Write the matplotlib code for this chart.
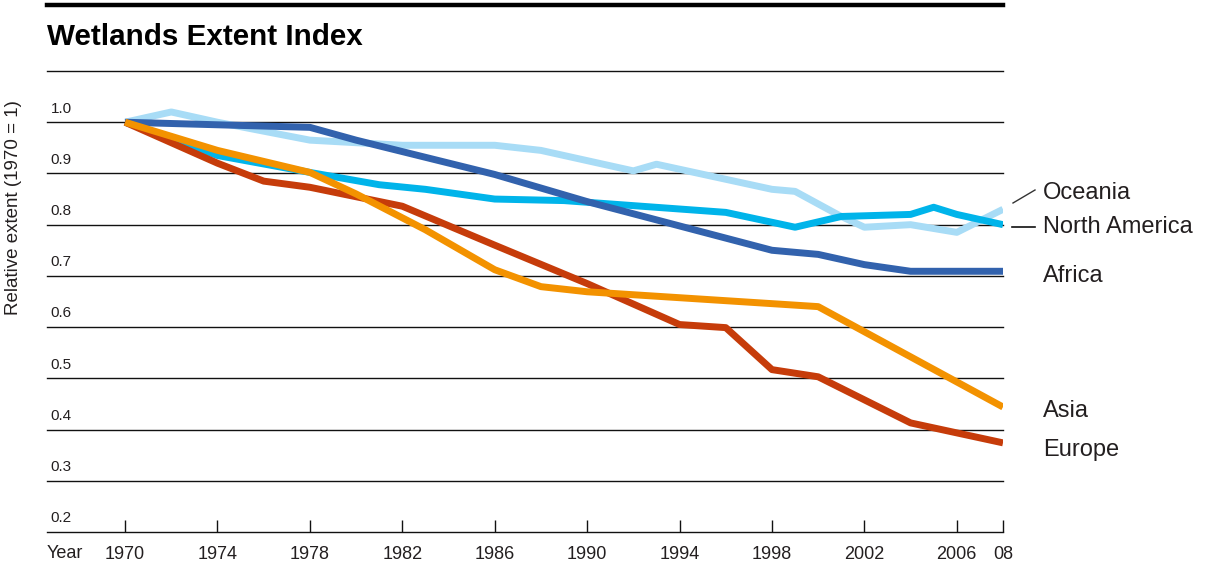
import matplotlib
matplotlib.use('Agg')
import matplotlib.pyplot as plt
import matplotlib.transforms as mtransforms
from matplotlib.lines import Line2D

# data (relative extent, 1970 = 1)
oceania_years = [1970, 1972, 1974, 1978, 1982, 1986, 1988, 1990, 1992, 1993, 1998, 1999, 2001, 2002, 2004, 2006, 2008]
oceania_vals = [1.0, 1.02, 1.0, 0.965, 0.955, 0.955, 0.945, 0.925, 0.905, 0.918, 0.869, 0.865, 0.816, 0.795, 0.80, 0.785, 0.83]

namerica_years = [1970, 1974, 1978, 1981, 1983, 1986, 1989, 1996, 1999, 2001, 2004, 2005, 2006, 2008]
namerica_vals = [1.0, 0.935, 0.902, 0.878, 0.869, 0.85, 0.847, 0.824, 0.795, 0.816, 0.82, 0.834, 0.82, 0.80]

africa_years = [1970, 1978, 1980, 1986, 1990, 1998, 2000, 2002, 2004, 2008]
africa_vals = [1.0, 0.99, 0.965, 0.898, 0.845, 0.75, 0.742, 0.722, 0.709, 0.709]

europe_years = [1970, 1974, 1976, 1978, 1982, 1986, 1990, 1994, 1996, 1998, 2000, 2002, 2004, 2008]
europe_vals = [1.0, 0.92, 0.885, 0.873, 0.836, 0.76, 0.685, 0.605, 0.599, 0.517, 0.503, 0.458, 0.413, 0.374]

asia_years = [1970, 1974, 1978, 1980, 1983, 1986, 1988, 1990, 2000, 2004, 2008]
asia_vals = [1.0, 0.945, 0.902, 0.86, 0.79, 0.712, 0.679, 0.669, 0.64, 0.542, 0.444]

x_ticks = [1970, 1974, 1978, 1982, 1986, 1990, 1994, 1998, 2002, 2006, 2008]
x_labels = ['1970', '1974', '1978', '1982', '1986', '1990', '1994', '1998', '2002', '2006', '08']
y_ticks = [0.2, 0.3, 0.4, 0.5, 0.6, 0.7, 0.8, 0.9, 1.0]

FONT = ['Liberation Sans', 'DejaVu Sans']
TXT = '#231f20'

fig = plt.figure(figsize=(12.05, 5.68), dpi=100)
ax = fig.add_axes([47 / 1205, 1 - 532 / 568, 956 / 1205, 461 / 568])

lw = 5
ax.plot(oceania_years, oceania_vals, color='#a8dcf6', lw=lw, solid_capstyle='butt', zorder=3)
ax.plot(namerica_years, namerica_vals, color='#00b4ea', lw=lw, solid_capstyle='butt', zorder=4)
ax.plot(africa_years, africa_vals, color='#3262ad', lw=lw, solid_capstyle='butt', zorder=5)
ax.plot(europe_years, europe_vals, color='#c63c0a', lw=lw, solid_capstyle='butt', zorder=6)
ax.plot(asia_years, asia_vals, color='#f39200', lw=lw, solid_capstyle='butt', zorder=7)

ax.set_xlim(1966.62, 2008)
ax.set_ylim(0.2, 1.1)

# horizontal rules
for v in y_ticks + [1.1]:
    ax.axhline(v, color='#111111', lw=1.0, zorder=2, clip_on=False)

for s in ax.spines.values():
    s.set_visible(False)

ax.set_yticks([])
ax.set_xticks(x_ticks)
ax.set_xticklabels(x_labels, fontsize=13, family=FONT, color=TXT)
ax.tick_params(axis='x', direction='in', length=9, width=1.0, color='#111111', pad=10)

# y values written above each rule
trans = mtransforms.blended_transform_factory(ax.transAxes, ax.transData)
for v in y_ticks:
    ax.text(0.004, v + 0.013, f'{v:.1f}', transform=trans, fontsize=11,
            family=FONT, color=TXT, ha='left', va='bottom')

# "Year" lined up with the tick labels
ax.text(0.0, 0.0, 'Year', fontsize=13, family=FONT, color=TXT, ha='left', va='center',
        transform=ax.transAxes + mtransforms.ScaledTranslation(0, -21 / 100, fig.dpi_scale_trans))

# series labels on the right
lab_trans = mtransforms.blended_transform_factory(ax.transAxes, ax.transData)
labels = [('Oceania', 0.862), ('North America', 0.795), ('Africa', 0.700),
          ('Asia', 0.436), ('Europe', 0.36)]
for name, yv in labels:
    ax.text(1.0 + 40 / 956, yv, name, transform=lab_trans, fontsize=17,
            family=FONT, color=TXT, ha='left', va='center', clip_on=False)

# leader lines for Oceania and North America
fig.add_artist(Line2D([1013 / 1205, 1035 / 1205], [1 - 203 / 568, 1 - 190 / 568],
                      color='#333333', lw=1.0))
fig.add_artist(Line2D([1012 / 1205, 1035 / 1205], [1 - 227 / 568, 1 - 227 / 568],
                      color='#111111', lw=1.2))

# top thick rule and title
fig.add_artist(Line2D([47 / 1205, 1003 / 1205], [1 - 5 / 568, 1 - 5 / 568],
                      color='black', lw=3.2))
fig.text(47 / 1205, 1 - 45 / 568, 'Wetlands Extent Index', fontsize=21.3,
         fontweight='bold', family=FONT, color='black', ha='left', va='baseline')

fig.text(14 / 1205, 1 - 208 / 568, 'Relative extent (1970 = 1)', rotation=90,
         fontsize=13.5, family=FONT, color=TXT, ha='center', va='center')

fig.savefig('out.png', dpi=100)
